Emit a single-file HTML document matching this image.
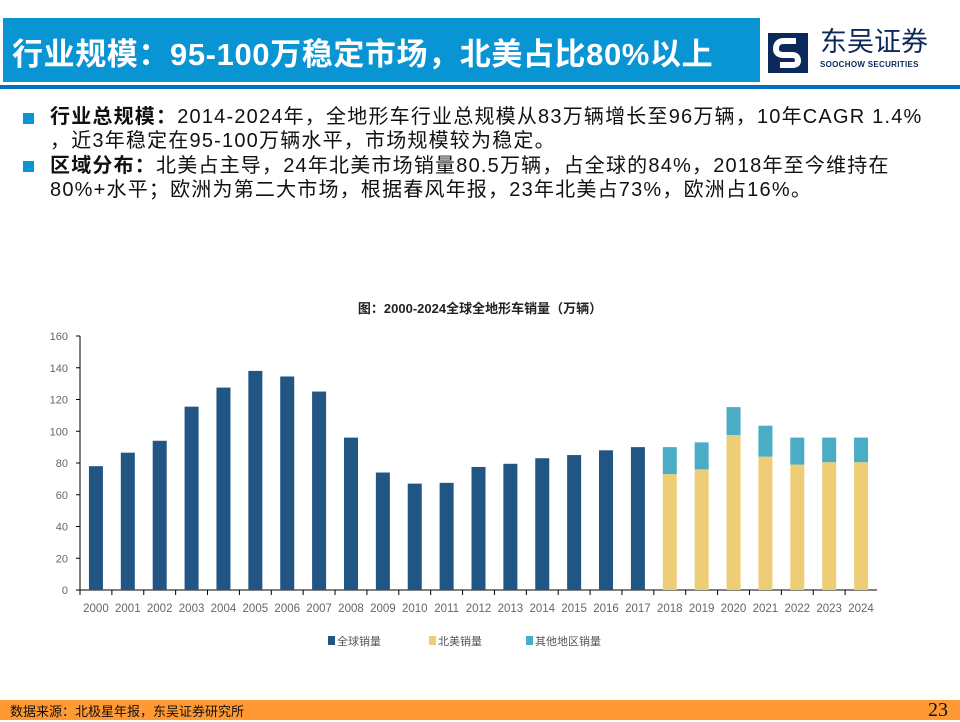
<!DOCTYPE html>
<html><head><meta charset="utf-8">
<style>
body{margin:0;width:960px;height:720px;position:relative;background:#fff;font-family:"Liberation Sans","Noto Sans CJK SC",sans-serif;overflow:hidden}
.t{position:absolute;white-space:nowrap}
</style></head><body>
<div style="position:absolute;left:3px;top:18px;width:757px;height:64px;background:#0994d3"></div>
<div class="t" style="left:12px;top:29px;font-size:31px;font-weight:bold;color:#fff;letter-spacing:0.6px">行业规模：95-100万稳定市场，北美占比80%以上</div>
<div style="position:absolute;left:0;top:85px;width:960px;height:4px;background:#0070c0"></div>
<div style="position:absolute;left:768px;top:30px;width:180px;height:50px">
<svg width="40" height="40" viewBox="0 0 40 40" style="position:absolute;left:0;top:3px"><rect width="40" height="40" fill="#0b2a5b"/><path d="M28 8 L16 8 Q8 8 8 16 Q8 22 16 22 L24 22 Q30 22 30 28 Q30 32 24 32 L12 32" stroke="#fff" stroke-width="6" fill="none"/></svg>
<div class="t" style="left:52px;top:-4px;font-size:27px;line-height:32px;color:#0b2a5b">东吴证券</div>
<div class="t" style="left:52px;top:30px;font-size:8px;line-height:10px;font-weight:bold;color:#0b2a5b;letter-spacing:0.3px">SOOCHOW SECURITIES</div>
</div>
<div style="position:absolute;left:23px;top:113px;width:11px;height:11px;background:#0994d3"></div>
<div class="t" style="left:50px;top:105px;font-size:20px;line-height:24px;letter-spacing:1.2px;color:#111"><b>行业总规模：</b>2014-2024年，全地形车行业总规模从83万辆增长至96万辆，10年CAGR 1.4%<br>，近3年稳定在95-100万辆水平，市场规模较为稳定。</div>
<div style="position:absolute;left:23px;top:161px;width:11px;height:11px;background:#0994d3"></div>
<div class="t" style="left:50px;top:154px;font-size:20px;line-height:24px;letter-spacing:1.2px;color:#111"><b>区域分布：</b>北美占主导，24年北美市场销量80.5万辆，占全球的84%，2018年至今维持在<br>80%+水平；欧洲为第二大市场，根据春风年报，23年北美占73%，欧洲占16%。</div>
<div class="t" style="left:0;width:960px;text-align:center;top:298px;font-size:13px;font-weight:bold;color:#222">图：2000-2024全球全地形车销量（万辆）</div>
<svg id="chart" width="960" height="720" style="position:absolute;left:0;top:0"></svg>
<div style="position:absolute;left:0;top:700px;width:960px;height:20px;background:#ff9933"></div>
<div class="t" style="left:10px;top:701px;font-size:13px;color:#111">数据来源：北极星年报，东吴证券研究所</div>
<div class="t" style="left:928px;top:699px;font-size:20px;font-family:'Liberation Serif',serif;color:#111">23</div>
<script>
const years=["2000","2001","2002","2003","2004","2005","2006","2007","2008","2009","2010","2011","2012","2013","2014","2015","2016","2017","2018","2019","2020","2021","2022","2023","2024"];
const globalSales=[78,86.5,94,115.5,127.5,138,134.5,125,96,74,67,67.5,77.5,79.5,83,85,88,90,null,null,null,null,null,null,null];
const naSales=[null,null,null,null,null,null,null,null,null,null,null,null,null,null,null,null,null,null,73,76,97.6,84,79,80.5,80.5];
const otherSales=[null,null,null,null,null,null,null,null,null,null,null,null,null,null,null,null,null,null,17,17,17.6,19.5,17,15.5,15.5];
const yTicks=[0,20,40,60,80,100,120,140,160];
const NS="http://www.w3.org/2000/svg";
const svg=document.getElementById('chart');
const x0=80,x1=877,y0=590,y1=336,ymax=160;
const bw=(x1-x0)/years.length;
const ys=v=>y0-(v/ymax)*(y0-y1);
const xs=i=>x0+bw*(i+0.5);
function mk(t,a){const e=document.createElementNS(NS,t);for(const k in a)e.setAttribute(k,a[k]);svg.appendChild(e);return e;}
yTicks.forEach(v=>{
 const t=mk('text',{x:x0-12,y:ys(v)+4,'text-anchor':'end','font-size':11,fill:'#666','font-family':'Liberation Sans'});
 t.textContent=v;
 
 
 const l=mk('line',{x1:x0-4,x2:x0,y1:ys(v),y2:ys(v),stroke:'#000'});
 
 
});
const ya=mk('line',{x1:x0,x2:x0,y1:y1,y2:y0,stroke:'#000'});


const xa=mk('line',{x1:x0,x2:x1,y1:y0,y2:y0,stroke:'#000'});


const w=14;
years.forEach((yr,i)=>{
 const tk=mk('line',{x1:x0+bw*i,x2:x0+bw*i,y1:y0,y2:y0+5,stroke:'#000'});
 
 
 const t=mk('text',{x:xs(i),y:y0+22,'text-anchor':'middle','font-size':11.5,fill:'#666','font-family':'Liberation Sans'});
 t.textContent=yr;
 
 
 if(globalSales[i]!=null){
  const r=mk('rect',{x:xs(i)-w/2,y:ys(globalSales[i]),width:w,height:y0-ys(globalSales[i]),fill:'#215583'});
  
  
 }
 if(naSales[i]!=null){
  const r=mk('rect',{x:xs(i)-w/2,y:ys(naSales[i]),width:w,height:y0-ys(naSales[i]),fill:'#edcd76'});
  
  
  const top=naSales[i]+otherSales[i];
  const r2=mk('rect',{x:xs(i)-w/2,y:ys(top),width:w,height:ys(naSales[i])-ys(top),fill:'#4bacc6'});
  
  
 }
});
const leg=[["全球销量","#215583",328],["北美销量","#edcd76",429],["其他地区销量","#4bacc6",526]];
leg.forEach(l=>{
 const r=mk('rect',{x:l[2],y:636,width:7,height:9,fill:l[1]});
 
 
 const t=mk('text',{x:l[2]+9,y:645,'font-size':11,fill:'#555','font-family':'Liberation Sans, Noto Sans CJK SC, sans-serif'});
 t.textContent=l[0];
 
 
});
</script>
</body></html>
